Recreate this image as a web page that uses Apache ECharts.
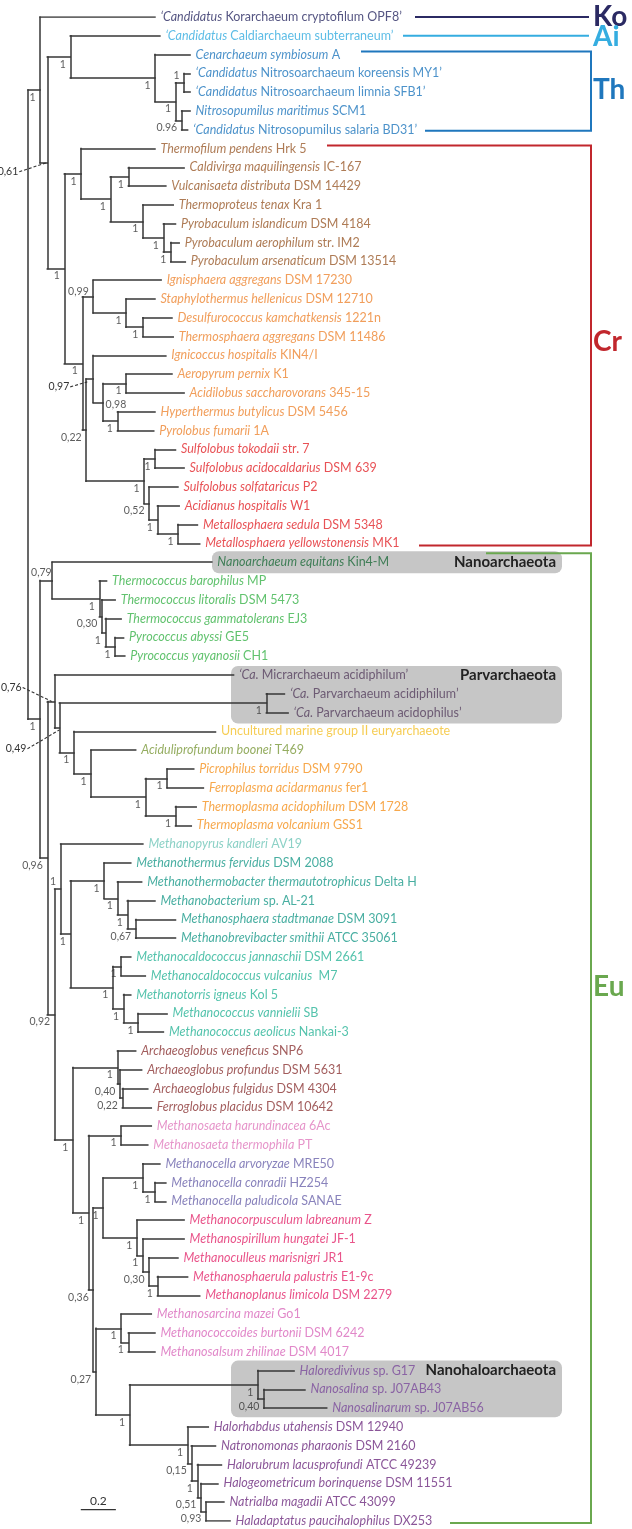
<!DOCTYPE html>
<html><head><meta charset="utf-8">
<script src="https://cdn.jsdelivr.net/npm/echarts@6/dist/echarts.min.js"></script>
<style>html,body{margin:0;padding:0;background:#fff}#c{width:632px;height:1529px}</style>
</head><body><div id="c"></div>
<script>
// ---------- DATA ----------
// leaf labels in display order: [italic part, upright part]
const leafNames = [
 ["‘Candidatus"," Korarchaeum cryptofilum OPF8’"],
 ["‘Candidatus"," Caldiarchaeum subterraneum’"],
 ["Cenarchaeum symbiosum"," A"],
 ["‘Candidatus"," Nitrosoarchaeum koreensis MY1’"],
 ["‘Candidatus"," Nitrosoarchaeum limnia SFB1’"],
 ["Nitrosopumilus maritimus"," SCM1"],
 ["‘Candidatus"," Nitrosopumilus salaria BD31’"],
 ["Thermofilum pendens"," Hrk 5"],
 ["Caldivirga maquilingensis"," IC-167"],
 ["Vulcanisaeta distributa"," DSM 14429"],
 ["Thermoproteus tenax"," Kra 1"],
 ["Pyrobaculum islandicum"," DSM 4184"],
 ["Pyrobaculum aerophilum"," str. IM2"],
 ["Pyrobaculum arsenaticum"," DSM 13514"],
 ["Ignisphaera aggregans"," DSM 17230"],
 ["Staphylothermus hellenicus"," DSM 12710"],
 ["Desulfurococcus kamchatkensis"," 1221n"],
 ["Thermosphaera aggregans"," DSM 11486"],
 ["Ignicoccus hospitalis"," KIN4/I"],
 ["Aeropyrum pernix"," K1"],
 ["Acidilobus saccharovorans"," 345-15"],
 ["Hyperthermus butylicus"," DSM 5456"],
 ["Pyrolobus fumarii"," 1A"],
 ["Sulfolobus tokodaii"," str. 7"],
 ["Sulfolobus acidocaldarius"," DSM 639"],
 ["Sulfolobus solfataricus"," P2"],
 ["Acidianus hospitalis"," W1"],
 ["Metallosphaera sedula"," DSM 5348"],
 ["Metallosphaera yellowstonensis"," MK1"],
 ["Nanoarchaeum equitans"," Kin4-M"],
 ["Thermococcus barophilus"," MP"],
 ["Thermococcus litoralis"," DSM 5473"],
 ["Thermococcus gammatolerans"," EJ3"],
 ["Pyrococcus abyssi"," GE5"],
 ["Pyrococcus yayanosii"," CH1"],
 ["‘Ca."," Micrarchaeum acidiphilum’"],
 ["‘Ca."," Parvarchaeum acidiphilum’"],
 ["‘Ca."," Parvarchaeum acidophilus’"],
 ["","Uncultured marine group II euryarchaeote"],
 ["Aciduliprofundum boonei"," T469"],
 ["Picrophilus torridus"," DSM 9790"],
 ["Ferroplasma acidarmanus"," fer1"],
 ["Thermoplasma acidophilum"," DSM 1728"],
 ["Thermoplasma volcanium"," GSS1"],
 ["Methanopyrus kandleri"," AV19"],
 ["Methanothermus fervidus"," DSM 2088"],
 ["Methanothermobacter thermautotrophicus"," Delta H"],
 ["Methanobacterium"," sp. AL-21"],
 ["Methanosphaera stadtmanae"," DSM 3091"],
 ["Methanobrevibacter smithii"," ATCC 35061"],
 ["Methanocaldococcus jannaschii"," DSM 2661"],
 ["Methanocaldococcus vulcanius","  M7"],
 ["Methanotorris igneus"," Kol 5"],
 ["Methanococcus vannielii"," SB"],
 ["Methanococcus aeolicus"," Nankai-3"],
 ["Archaeoglobus veneficus"," SNP6"],
 ["Archaeoglobus profundus"," DSM 5631"],
 ["Archaeoglobus fulgidus"," DSM 4304"],
 ["Ferroglobus placidus"," DSM 10642"],
 ["Methanosaeta harundinacea"," 6Ac"],
 ["Methanosaeta thermophila"," PT"],
 ["Methanocella arvoryzae"," MRE50"],
 ["Methanocella conradii"," HZ254"],
 ["Methanocella paludicola"," SANAE"],
 ["Methanocorpusculum labreanum"," Z"],
 ["Methanospirillum hungatei"," JF-1"],
 ["Methanoculleus marisnigri"," JR1"],
 ["Methanosphaerula palustris"," E1-9c"],
 ["Methanoplanus limicola"," DSM 2279"],
 ["Methanosarcina mazei"," Go1"],
 ["Methanococcoides burtonii"," DSM 6242"],
 ["Methanosalsum zhilinae"," DSM 4017"],
 ["Haloredivivus"," sp. G17"],
 ["Nanosalina"," sp. J07AB43"],
 ["Nanosalinarum"," sp. J07AB56"],
 ["Halorhabdus utahensis"," DSM 12940"],
 ["Natronomonas pharaonis"," DSM 2160"],
 ["Halorubrum lacusprofundi"," ATCC 49239"],
 ["Halogeometricum borinquense"," DSM 11551"],
 ["Natrialba magadii"," ATCC 43099"],
 ["Haladaptatus paucihalophilus"," DX253"]
];
// taxonomic colour group of each leaf
const leafGroups = ["Ko","Ai","Th","Th","Th","Th","Th","Tp","Tp","Tp","Tp","Tp","Tp","Tp",
 "De","De","De","De","De","De","De","De","De","Su","Su","Su","Su","Su","Su",
 "Na","Tc","Tc","Tc","Tc","Tc","Pa","Pa","Pa","Mg","Ac","Tl","Tl","Tl","Tl",
 "Mp","Mb","Mb","Mb","Mb","Mb","Mc","Mc","Mc","Mc","Mc","Ar","Ar","Ar","Ar",
 "Ms","Ms","Mce","Mce","Mce","Mm","Mm","Mm","Mm","Mm","Msa","Msa","Msa",
 "Nh","Nh","Nh","Hb","Hb","Hb","Hb","Hb","Hb"];
// distance of each leaf tip from the root (substitutions/site)
const tipDepths = [0.724,0.752,0.924,0.924,0.924,0.924,0.910,0.724,0.890,0.786,0.828,0.841,0.862,0.897,
 0.759,0.724,0.821,0.828,0.786,0.821,0.890,0.724,0.717,0.841,0.890,0.855,0.862,0.966,0.979,
 1.048,0.448,0.497,0.531,0.545,0.552,1.172,1.462,1.483,1.069,0.614,0.945,1.000,0.959,0.931,
 0.655,0.586,0.648,0.724,0.841,0.841,0.586,0.669,0.586,0.793,0.772,0.614,0.648,0.683,0.703,
 0.703,0.683,0.752,0.786,0.786,0.890,0.890,0.855,0.910,0.979,0.703,0.724,0.724,
 1.517,1.579,1.703,1.028,1.069,1.103,1.083,1.117,1.152];
// parent node of each leaf
const leafParents = ["N1","N3","N4","N6","N6","N7","N7","N11","N13","N13","N14","N15","N16","N16",
 "N21","N22","N23","N23","N26","N28","N28","N29","N29","N31","N31","N32","N33","N34","N34",
 "M2","M3","M4","M5","M6","M6","M11","M13","M13","M14","M15","M17","M17","M18","M18",
 "M31","M33","M34","M35","M36","M36","M41","M41","M42","M43","M43","M51","M52","M53","M53",
 "M56","M56","M59","M60","M60","M62","M63","M64","M65","M65","M71","M72","M72",
 "M76","M77","M77","M80","M81","M82","M83","M84","M84"];
// internal nodes: id, parent, depth from root, support
const nodeIds      = ["R","N1","N2","N3","N4","N5","N6","N7","N10","N11","N12","N13","N14","N15","N16","N20","N21","N22","N23","N25","N26","N27","N28","N29","N30","N31","N32","N33","N34",
 "M1","M2","M3","M4","M5","M6","M10","M11","M12","M13","M14","M15","M16","M17","M18","M30","M31","M32","M33","M34","M35","M36","M40","M41","M42","M43",
 "M50","M51","M52","M53","M55","M56","M57","M58","M59","M60","M62","M63","M64","M65","M70","M71","M72","M75","M76","M77","M80","M81","M82","M83","M84"];
const nodeParents  = [null,"R","N1","N2","N3","N4","N5","N5","N2","N10","N11","N12","N12","N14","N15","N10","N20","N21","N22","N20","N25","N26","N27","N27","N25","N30","N30","N32","N33",
 "R","M1","M2","M3","M4","M5","M1","M10","M11","M12","M12","M14","M15","M16","M16","M10","M30","M31","M32","M33","M34","M35","M32","M40","M40","M42",
 "M30","M50","M51","M52","M50","M55","M55","M57","M58","M59","M58","M62","M63","M64","M57","M70","M71","M70","M75","M76","M75","M80","M81","M82","M83"];
const nodeDepths   = [0,0.069,0.110,0.241,0.724,0.841,0.890,0.876,0.207,0.303,0.469,0.572,0.655,0.772,0.814,0.310,0.372,0.559,0.655,0.331,0.372,0.428,0.559,0.510,0.662,0.724,0.690,0.738,0.855,
 0.069,0.138,0.407,0.421,0.441,0.497,0.110,0.152,0.179,1.359,0.262,0.359,0.669,0.793,0.841,0.152,0.186,0.241,0.434,0.510,0.566,0.614,0.483,0.531,0.545,0.628,
 0.255,0.510,0.524,0.538,0.345,0.531,0.372,0.428,0.655,0.724,0.621,0.655,0.690,0.738,0.386,0.531,0.572,0.579,1.310,1.345,0.910,0.931,0.966,0.986,1.014];
const nodeSupports = ["","1","0,61","1","1","1","1","0.96","1","1","1","1","1","1","1","1","0,99","1","1","0,22","0,97","0,98","1","1","1","1","0,52","1","1",
 "1","0,79","1","0,30","1","1","0,96","0,76","0,49","1","1","1","1","1","1","0,92","1","1","1","1","1","0,67","1","1","1","1",
 "1","1","0,40","0,22","1","1","0,36","1","1","1","1","1","0,30","1","0,27","1","1","1","1","0,40","1","0,15","1","0,51","0,93"];
// clade brackets on the right
const cladeNames = ["Ko","Ai","Th","Cr","Eu"];
const cladeFirstLeaf = [0,1,2,7,29];
const cladeLastLeaf  = [0,1,6,28,80];
// shaded lineage boxes
const boxTitles = ["Nanoarchaeota","Parvarchaeota","Nanohaloarchaeota"];
const boxFirstLeaf = [29,35,72];
const boxLastLeaf  = [29,37,74];
const scaleBarLength = 0.2;

// ---------- STYLE ----------
const FONT = 'Lato';
const LEAF_FS = 12.5;
const groupColors = {Ko:'#2b2a63',Ai:'#35ade0',Th:'#1f77bd',Tp:'#9a5a2b',De:'#ee8632',Su:'#e2262b',
 Na:'#1e6b3b',Tc:'#39b34a',Pa:'#56405f',Mg:'#f4c02a',Ac:'#7a993a',Tl:'#f5921f',Mp:'#6fc6b8',
 Mb:'#1a9a8a',Mc:'#29b497',Ar:'#8b3434',Ms:'#e07bbd',Mce:'#6c64ab',Mm:'#e4296d',Msa:'#d96abb',
 Nh:'#7a4a9b',Hb:'#6d2b7e'};
const cladeColors = ['#2b2a63','#35ade0','#1f77bd','#c1272d','#6aa84f'];
// bracket layout in px
const cladeTopStart = [415,403,361,327,486];
const cladeBottomEnd = [null,null,425,419,450];
const cladeTopDy = [0,0,-3,-3,-9];
const cladeBottomDy = [0,0,1,2,2];
const cladeLabelY = [0,1.06,3.88,17.3,51.6];
const bracketX = 591;
const boxLeftPx = [212,231,231], boxRightPx = 562;
const boxTopDy = [-11,-9,-10], boxBottomDy = [11,11,9];
const supportOffset = {N6:[-4,-7,'right'],N21:[-4,-5,'right'],M2:[0,-7,'right'],M31:[-4,-7,'right'],N27:[3,3,'left']};
const pointers = {N2:[-29,9,-1,0],N26:[-24,8,-6,3],M11:[-33,-14,-3,0],M12:[-33,21,0,2]};

// ---------- TREE LAYOUT ----------
const tree = {};
nodeIds.forEach((id,k)=>{tree[id]={id,parent:nodeParents[k],x:nodeDepths[k],sup:nodeSupports[k],kids:[]};});
nodeIds.forEach(id=>{const p=tree[id].parent; if(p) tree[p].kids.push(tree[id]);});
const leaves = leafNames.map((nm,i)=>({leaf:true,i,y:i,x:tipDepths[i],parent:leafParents[i]}));
leaves.forEach(l=>tree[l.parent].kids.push(l));
function place(n){ if(n.leaf) return n.y; const ys=n.kids.map(place); n.y0=Math.min(...ys); n.y1=Math.max(...ys); n.y=(n.y0+n.y1)/2; return n.y; }
place(tree.R);
const segs = [];
nodeIds.forEach(id=>{const n=tree[id]; if(n.parent) segs.push([[tree[n.parent].x,n.y],[n.x,n.y]]); segs.push([[n.x,n.y0],[n.x,n.y1]]);});
leaves.forEach(l=>segs.push([[tree[l.parent].x,l.y],[l.x,l.y]]));

const leafData = leaves.map(l=>{
  const c = groupColors[leafGroups[l.i]];
  const [it,nm] = leafNames[l.i];
  return {value:[l.x,l.y], label:{formatter:(it?'{i|'+it+'}':'')+'{n|'+nm+'}',
    rich:{i:{fontStyle:'italic',fontFamily:FONT,fontSize:LEAF_FS,color:c},n:{fontFamily:FONT,fontSize:LEAF_FS,color:c}}}};
});
const supData = nodeIds.filter(id=>tree[id].sup && !pointers[id]).map(id=>{
  const n=tree[id]; const o=supportOffset[id]||[-4,8,'right'];
  return {value:[n.x,n.y], label:{formatter:n.sup, position:[o[0],o[1]], align:o[2]}};
});
const ptrIds = Object.keys(pointers);

const chart = echarts.init(document.getElementById('c'));
chart.setOption({
  animation:false,
  grid:{left:28,right:0,top:17,bottom:8},
  xAxis:{type:'value',min:0,max:3.4436,show:false},
  yAxis:{type:'value',min:0,max:80,inverse:true,show:false},
  series:[
    {type:'custom',z:1,silent:true,data:boxTitles.map((t,i)=>[0,boxFirstLeaf[i]]),
     renderItem:(p,api)=>{const i=p.dataIndex;
       const y0=api.coord([0,boxFirstLeaf[i]])[1]+boxTopDy[i], y1=api.coord([0,boxLastLeaf[i]])[1]+boxBottomDy[i];
       const ty=api.coord([0,boxFirstLeaf[i]])[1];
       return {type:'group',children:[
         {type:'rect',shape:{x:boxLeftPx[i],y:y0,width:boxRightPx-boxLeftPx[i],height:y1-y0,r:7},style:{fill:'#c6c6c6'}},
         {type:'text',style:{text:boxTitles[i],x:boxRightPx-6,y:ty,align:'right',verticalAlign:'middle',fill:'#222',font:'bold 15px '+FONT}}]};}},
    {type:'lines',coordinateSystem:'cartesian2d',z:3,silent:true,polyline:false,
     data:segs.map(c=>({coords:c})),lineStyle:{color:'#363636',width:1.5,opacity:1,cap:'square'}},
    {type:'scatter',z:4,silent:true,symbolSize:1,itemStyle:{color:'rgba(0,0,0,0)'},data:leafData,
     label:{show:true,position:'right',distance:5,fontFamily:FONT,fontSize:LEAF_FS}},
    {type:'scatter',z:4,silent:true,symbolSize:1,itemStyle:{color:'rgba(0,0,0,0)'},data:supData,
     label:{show:true,fontFamily:FONT,fontSize:10.5,color:'#333',verticalAlign:'middle'}},
    {type:'custom',z:4,silent:true,data:ptrIds.map(id=>[tree[id].x,tree[id].y]),
     renderItem:(p,api)=>{const id=ptrIds[p.dataIndex]; const o=pointers[id]; const c=api.coord([api.value(0),api.value(1)]);
       return {type:'group',children:[
         {type:'line',shape:{x1:c[0]+o[0]+1,y1:c[1]+o[1],x2:c[0]+o[2],y2:c[1]+o[3]},style:{stroke:'#333',lineWidth:1.1,lineDash:[3,2]}},
         {type:'text',style:{text:tree[id].sup,x:c[0]+o[0],y:c[1]+o[1],align:'right',verticalAlign:'middle',fill:'#333',font:'10.5px '+FONT}}]};}},
    {type:'custom',z:2,silent:true,data:cladeNames.map((n,i)=>[0,cladeFirstLeaf[i]]),
     renderItem:(p,api)=>{const i=p.dataIndex; const col=cladeColors[i];
       const yt=api.coord([0,cladeFirstLeaf[i]])[1]+cladeTopDy[i]; const yb=api.coord([0,cladeLastLeaf[i]])[1]+cladeBottomDy[i];
       const yl=api.coord([0,cladeLabelY[i]])[1];
       const pts = cladeBottomEnd[i]==null ? [[cladeTopStart[i],yt],[bracketX-2,yt]] :
         [[cladeTopStart[i],yt],[bracketX,yt],[bracketX,yb],[cladeBottomEnd[i],yb]];
       return {type:'group',children:[
         {type:'polyline',shape:{points:pts},style:{stroke:col,lineWidth:2,fill:null}},
         {type:'text',style:{text:cladeNames[i],x:bracketX+2,y:yl,align:'left',verticalAlign:'middle',fill:col,font:'bold 28px '+FONT}}]};}},
    {type:'custom',z:4,silent:true,data:[[0.301,79.4]],
     renderItem:(p,api)=>{const a=api.coord([api.value(0),api.value(1)]); const b=api.coord([api.value(0)+scaleBarLength,api.value(1)]);
       return {type:'group',children:[
         {type:'line',shape:{x1:a[0],y1:a[1],x2:b[0],y2:b[1]},style:{stroke:'#333',lineWidth:1.3}},
         {type:'text',style:{text:String(scaleBarLength),x:(a[0]+b[0])/2,y:a[1]-3,align:'center',verticalAlign:'bottom',fill:'#333',font:'12px '+FONT}}]};}}
  ]
});
</script></body></html>
